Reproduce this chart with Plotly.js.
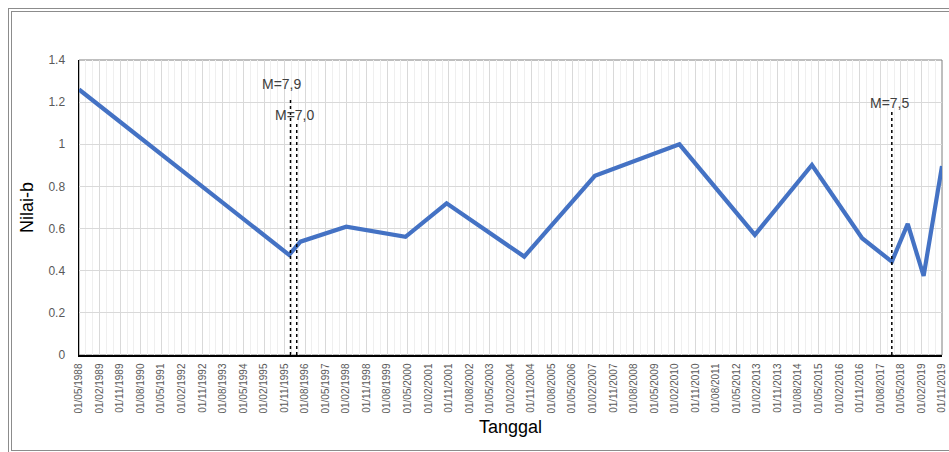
<!DOCTYPE html>
<html>
<head>
<meta charset="utf-8">
<script src="https://cdn.plot.ly/plotly-3.0.1.min.js"></script>
<style>
  html, body { margin: 0; padding: 0; background: #ffffff; overflow: hidden; }
  #wrap { position: relative; width: 949px; height: 452px; }
  #chart { position: absolute; left: 0; top: 0; width: 949px; height: 452px; }
  #frame { position: absolute; left: 8px; top: 8px; width: 960px; height: 438px;
           border: 4px double #8c8c8c; pointer-events: none; }
</style>
</head>
<body>
<div id="wrap">
  <div id="chart"></div>
  <div id="frame"></div>
</div>
<script>
// ---- data ----
const dates = ['1988-05-01','1996-01-01','1996-06-01','1998-02-01','2000-04-01','2001-10-01',
               '2004-08-01','2007-03-01','2010-04-01','2013-01-01','2015-02-01','2016-12-01',
               '2018-01-01','2018-08-01','2019-03-01','2019-11-01'];
const bValues = [1.26,0.475,0.538,0.609,0.561,0.72,
                 0.467,0.85,1.0,0.57,0.902,0.554,
                 0.443,0.622,0.375,0.897];

// earthquake events marked by dotted vertical lines
const eventDates  = ['1996-01-20','1996-04-12','2018-01-01'];
const eventLabels = ['M=7,9','M=7,0','M=7,5'];
const eventLineTop = [1.215, 1.10, 1.163];

const yTitle = 'Nilai-b';
const xTitle = 'Tanggal';
const xStart = '1988-05-01';
const xEnd   = '2019-11-01';

// ---- build chart ----
const trace = {
  x: dates, y: bValues, type: 'scatter', mode: 'lines',
  line: { color: '#4472C4', width: 4.2 },
  hoverinfo: 'x+y'
};

const shapes = [{
  type: 'rect', xref: 'paper', yref: 'paper', x0: 0, x1: 1, y0: 0, y1: 1,
  line: { color: '#7f7f7f', width: 1 }, layer: 'below'
}];
const annotations = [];
const labelShift = [-9, -2, -2];
const labelLift = [5, -2, -3];
eventDates.forEach((d, i) => {
  shapes.push({
    type: 'line', xref: 'x', yref: 'y', x0: d, x1: d, y0: 0, y1: eventLineTop[i],
    line: { color: '#000000', width: 1.5, dash: 'dot' }
  });
  annotations.push({
    x: d, y: eventLineTop[i], xref: 'x', yref: 'y',
    text: eventLabels[i], showarrow: false,
    xanchor: 'center', yanchor: 'bottom',
    xshift: labelShift[i], yshift: labelLift[i],
    font: { family: 'Liberation Sans, Arial, sans-serif', size: 14, color: '#404040' }
  });
});

const layout = {
  width: 949, height: 452,
  margin: { l: 79, r: 7, t: 60, b: 97 },
  paper_bgcolor: '#ffffff', plot_bgcolor: '#ffffff',
  showlegend: false,
  font: { family: 'Liberation Sans, Arial, sans-serif', color: '#595959' },
  xaxis: {
    type: 'date',
    range: [xStart, xEnd],
    tick0: xStart, dtick: 'M9',
    tickformat: '%d/%m/%Y',
    tickangle: -90,
    tickfont: { size: 10, color: '#595959' },
    ticks: '',
    ticklabelstandoff: 3,
    showgrid: true, gridcolor: '#d9d9d9', gridwidth: 1,
    minor: { tick0: xStart, dtick: 'M3', showgrid: true, gridcolor: '#efefef', gridwidth: 1 },
    showline: true, linecolor: '#000000', linewidth: 1.5,
    zeroline: false,
    title: { text: xTitle, font: { size: 18, color: '#000000' }, standoff: 8 },
    automargin: false, fixedrange: true
  },
  yaxis: {
    range: [0, 1.4],
    dtick: 0.2, tick0: 0,
    tickfont: { size: 12, color: '#595959' },
    ticks: '',
    ticklabelstandoff: 10,
    showgrid: true, gridcolor: '#d9d9d9', gridwidth: 1,
    showline: true, linecolor: '#000000', linewidth: 1.5,
    zeroline: false,
    title: { text: yTitle, font: { size: 18, color: '#000000' }, standoff: 10 },
    automargin: false, fixedrange: true
  },
  shapes: shapes,
  annotations: annotations
};

Plotly.newPlot('chart', [trace], layout, { displayModeBar: false, staticPlot: true });
</script>
</body>
</html>
